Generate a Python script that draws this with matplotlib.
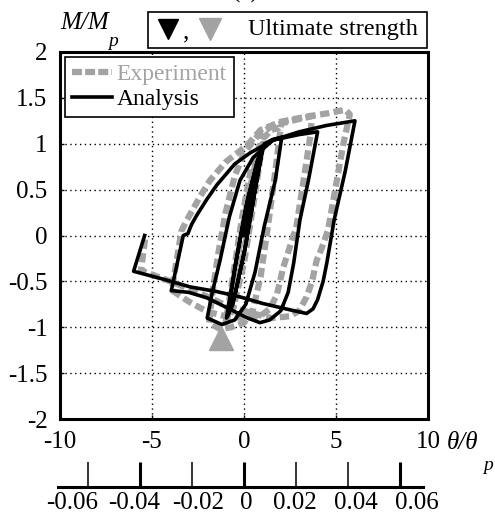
import numpy as np
import matplotlib
matplotlib.use("Agg")
import matplotlib.pyplot as plt
from matplotlib.lines import Line2D
from matplotlib.patches import Rectangle

plt.rcParams['font.family'] = ['Liberation Serif', 'DejaVu Serif']
plt.rcParams['axes.unicode_minus'] = False
plt.rcParams['font.size'] = 18

# Hysteresis loops, rotation ratio theta/theta_p vs moment ratio M/M_p
exp_theta = [0, 0.5, 0.9, 0.5, -0.1, -0.6, -0.9, -0.4, 0.2, 0.7, 1.0, 0.6, 0.0, -0.6, -1.0,
             -0.6, -0.1, 0.4, 1.0, 1.5, 2.0, 1.7, 1.3, 0.9, 0.5, 0.0, -0.7, -1.3, -1.9,
             -1.7, -1.4, -1.0, -0.5, 0.0, 0.8, 1.6, 2.8, 3.7, 3.6, 3.2, 2.85, 2.5, 2.13,
             1.78, 1.4, 0.87, 0.0, -1.0, -2.0, -3.0, -3.9,
             -3.85, -3.6, -3.4, -3.1, -2.4, -1.85, -1.0, 0.15, 0.9, 2.0, 3.5, 4.5, 5.5, 5.75,
             5.4, 5.0, 4.57, 4.2, 3.95, 3.7, 3.4, 3.0, 2.5, 1.5, 0.5, -1.0, -2.5, -4.0, -5.6, -5.35]
exp_m = [0, 0.6, 0.95, 0.45, -0.3, -0.8, -0.9, -0.3, 0.4, 0.85, 1.0, 0.45, -0.3, -0.8, -0.95,
         -0.45, 0.2, 0.75, 1.05, 1.15, 1.18, 0.7, 0.1, -0.45, -0.8, -0.95, -1.0, -1.02, -0.95,
         -0.6, -0.2, 0.25, 0.65, 0.9, 1.1, 1.2, 1.26, 1.3, 1.08, 0.55, 0.1, -0.12, -0.35,
         -0.65, -0.8, -0.88, -0.9, -0.88, -0.83, -0.72, -0.6,
         -0.5, -0.2, 0.05, 0.17, 0.42, 0.6, 0.8, 0.98, 1.15, 1.24, 1.3, 1.33, 1.37, 1.32,
         1.0, 0.55, 0.06, -0.15, -0.27, -0.5, -0.67, -0.82, -0.88, -0.9, -0.85, -0.76, -0.62, -0.5, -0.38, 0.0]

ana_theta = [0, 0.5, 1.0, 0.6, 0.0, -0.6, -0.95, -0.5, 0.1, 0.7, 1.05, 0.7, 0.1, -0.5, -0.9,
             -0.4, 0.2, 0.8, 1.1, 1.6, 2.05, 1.7, 1.1, 0.6, 0.1, -0.5, -1.2, -2.0,
             -1.7, -1.3, -0.8, -0.22, 0.5, 1.58, 3.0, 4.0,
             3.5, 3.04, 2.7, 2.4, 2.0, 1.4, 0.87, 0.2, -0.5, -1.2, -2.0, -3.0, -3.95,
             -3.3, -3.05, -2.85, -2.57, -2.0, -1.48, -0.5, 0.33, 1.58, 3.0, 4.5, 6.03,
             5.5, 4.9, 4.5, 4.3, 4.0, 3.75, 3.4, 2.5, 1.0, -0.2, -1.5, -2.93, -4.5, -6.0, -5.4]
ana_m = [0, 0.55, 0.95, 0.5, -0.2, -0.75, -0.9, -0.35, 0.3, 0.8, 0.97, 0.6, -0.1, -0.65, -0.88,
         -0.25, 0.4, 0.85, 1.0, 1.05, 1.07, 0.6, 0.1, -0.4, -0.75, -0.92, -0.97, -0.9,
         -0.6, -0.27, 0.2, 0.6, 0.85, 1.04, 1.1, 1.13,
         0.6, 0.17, -0.3, -0.62, -0.82, -0.92, -0.95, -0.9, -0.83, -0.76, -0.68, -0.62, -0.6,
         0.0, 0.02, 0.12, 0.22, 0.4, 0.55, 0.78, 0.9, 1.04, 1.13, 1.2, 1.25,
         0.7, 0.17, -0.3, -0.5, -0.7, -0.8, -0.85, -0.81, -0.74, -0.67, -0.61, -0.56, -0.47, -0.39, 0.0]

# ultimate strength reached in the test
exp_ult_theta = [-1.25]
exp_ult_m = [-1.12]

x_ticks = [-10, -5, 0, 5, 10]
x_labels = ['-10', '-5', '0', '5', '10']
y_ticks = [-2, -1.5, -1, -0.5, 0, 0.5, 1, 1.5, 2]
y_labels = ['-2', '-1.5', '-1', '-0.5', '0', '0.5', '1', '1.5', '2']
rad_ticks = [-0.06, -0.04, -0.02, 0, 0.02, 0.04, 0.06]
rad_labels = ['-0.06', '-0.04', '-0.02', '0', '0.02', '0.04', '0.06']
theta_p = 0.00708

W, H = 495, 519


def fpos(x, y):
    return x / W, 1 - y / H


fig = plt.figure(figsize=(W / 100, H / 100), dpi=100)
ax = fig.add_axes([60 / W, 1 - 419 / H, 368 / W, 367 / H])

gray = '#a3a3a3'
ax.plot(exp_theta, exp_m, color=gray, lw=4.5, linestyle=(0, (1.5, 0.7)),
        dash_capstyle='butt', zorder=2)
ax.plot(ana_theta, ana_m, color='black', lw=2.6, zorder=3)
ax.plot(exp_ult_theta, exp_ult_m, marker='^', ms=17, color=gray, ls='none',
        zorder=4, clip_on=False)

ax.set_xlim(-10, 10)
ax.set_ylim(-2, 2)
ax.set_xticks(x_ticks)
ax.set_xticklabels(x_labels)
ax.set_yticks(y_ticks)
ax.set_yticklabels(y_labels)
ax.tick_params(direction='in', length=3, width=1, labelsize=18)
ax.tick_params(axis='x', pad=9)
ax.tick_params(axis='y', pad=9)
ax.grid(True, color='black', linestyle=(0, (1, 2.5)), linewidth=1)
for s in ax.spines.values():
    s.set_linewidth(2.2)

handles = [Line2D([], [], color=gray, lw=4.5, linestyle=(0, (1.6, 0.5)), dash_capstyle='butt'),
           Line2D([], [], color='black', lw=2.6)]
leg = ax.legend(handles, ['Experiment', 'Analysis'], loc='upper left', fontsize=17,
                handlelength=1.7, handletextpad=0.2, labelspacing=0.15,
                borderaxespad=0.2, borderpad=0.3, fancybox=False, framealpha=1)
leg.get_frame().set_edgecolor('black')
leg.get_frame().set_linewidth(1.2)
leg.get_texts()[0].set_color(gray)

# secondary rotation scale (rad)
ax2 = fig.add_axes([58 / W, 1 - 487 / H, 365 / W, 0.01])
ax2.set_xlim(-10.11 * theta_p, 9.73 * theta_p)
ax2.set_ylim(0, 1)
for side in ['top', 'left', 'right']:
    ax2.spines[side].set_visible(False)
ax2.spines['bottom'].set_linewidth(2.2)
ax2.set_yticks([])
ax2.set_xticks(rad_ticks)
ax2.set_xticklabels([])
ax2.tick_params(axis='x', direction='in', length=18, width=1.1)
ax2.patch.set_visible(False)
for t, v in zip(ax2.xaxis.get_major_ticks(), rad_ticks):
    if v in (-0.04, 0, 0.06):
        t.tick1line.set_markeredgewidth(2.2)

# scale labels, evenly spread under the line
for lx, lab in zip([72, 134, 198, 246, 295, 356, 417], rad_labels):
    fig.text(*fpos(lx, 503), lab, fontsize=18, ha='center', va='center')

# axis titles
fig.text(*fpos(447, 443), 'θ/θ', fontsize=18, style='italic', va='center')
fig.text(*fpos(483, 466), 'p', fontsize=14, style='italic', va='center')
fig.text(*fpos(60, 23), 'M/M', fontsize=18, style='italic', va='center')
fig.text(*fpos(108, 42), 'p', fontsize=14, style='italic', va='center')
fig.text(*fpos(246, -2), '(a)', fontsize=18, ha='center', va='baseline')

# marker key above the plot
fig.add_artist(Rectangle(fpos(148, 48), 279 / W, 36 / H, transform=fig.transFigure,
                         fill=False, edgecolor='black', lw=1.2))
fig.add_artist(Line2D([fpos(168, 29)[0]], [fpos(168, 29)[1]], marker='v', ms=15,
                      color='black', ls='none', transform=fig.transFigure))
fig.text(*fpos(183, 32), ',', fontsize=18, va='center')
fig.add_artist(Line2D([fpos(210, 29)[0]], [fpos(210, 29)[1]], marker='v', ms=16,
                      color=gray, ls='none', transform=fig.transFigure))
fig.text(*fpos(248, 30), 'Ultimate strength', fontsize=17.5, va='center')

fig.savefig('out.png', dpi=100)
